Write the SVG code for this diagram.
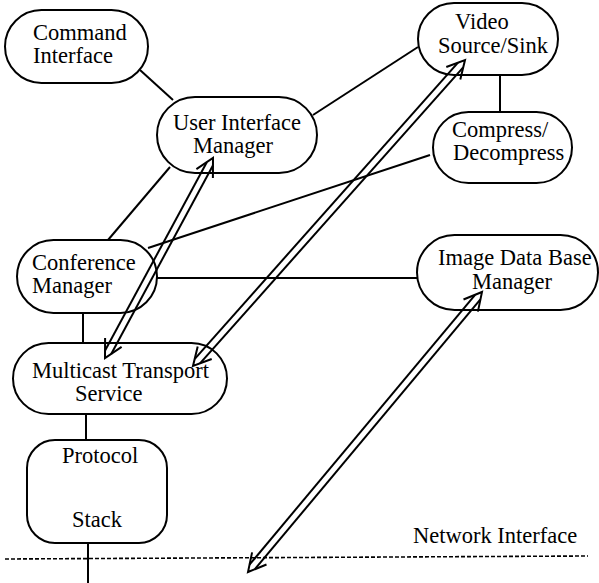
<svg xmlns="http://www.w3.org/2000/svg" width="599" height="583" viewBox="0 0 599 583">
<style>
.node{fill:#fff;stroke:#000;stroke-width:2}
.lbl{font-family:"Liberation Serif","Times New Roman",serif;font-size:22.5px;fill:#000}
.c{stroke:#000;stroke-width:2;fill:none}
.dash{stroke:#000;stroke-width:1.6;stroke-dasharray:4 2;fill:none}
.ar{stroke:#000;stroke-width:2;fill:none;stroke-linejoin:miter}
</style>
<rect width="599" height="583" fill="#fff"/>
<g id="command-interface">
<rect class="node" x="5" y="10" width="143" height="73" rx="36.5"/>
<text class="lbl" x="33" y="40">Command</text>
<text class="lbl" x="33" y="63">Interface</text>
</g>
<g id="user-interface-manager">
<rect class="node" x="157" y="97" width="160" height="76" rx="38"/>
<text class="lbl" x="173" y="130">User Interface</text>
<text class="lbl" x="193" y="153">Manager</text>
</g>
<g id="video-source-sink">
<rect class="node" x="418" y="3" width="140" height="72" rx="36"/>
<text class="lbl" x="455" y="29">Video</text>
<text class="lbl" x="438" y="53">Source/Sink</text>
</g>
<g id="compress-decompress">
<rect class="node" x="433" y="112" width="139" height="71" rx="35.5"/>
<text class="lbl" x="452" y="137">Compress/</text>
<text class="lbl" x="453" y="160">Decompress</text>
</g>
<g id="conference-manager">
<rect class="node" x="17" y="240" width="140" height="73" rx="36.5"/>
<text class="lbl" x="32" y="270">Conference</text>
<text class="lbl" x="32" y="293">Manager</text>
</g>
<g id="image-data-base-manager">
<rect class="node" x="417" y="235" width="181" height="75" rx="37.5"/>
<text class="lbl" x="438" y="265">Image Data Base</text>
<text class="lbl" x="472" y="289">Manager</text>
</g>
<g id="multicast-transport-service">
<rect class="node" x="13" y="343" width="214" height="71" rx="35.5"/>
<text class="lbl" x="32" y="378">Multicast Transport</text>
<text class="lbl" x="75" y="401">Service</text>
</g>
<g id="protocol-stack">
<rect class="node" x="27" y="440" width="140" height="103" rx="28"/>
<text class="lbl" x="62" y="463">Protocol</text>
<text class="lbl" x="72" y="527">Stack</text>
</g>
<g id="network-interface">
<text class="lbl" x="413" y="543">Network Interface</text>
</g>
<g id="connectors">
<line class="c" x1="140" y1="70" x2="173" y2="100"/>
<line class="c" x1="170" y1="167" x2="108" y2="240"/>
<line class="c" x1="418" y1="47" x2="313" y2="115"/>
<line class="c" x1="500" y1="75" x2="500" y2="112"/>
<line class="c" x1="430" y1="155" x2="148" y2="248"/>
<line class="c" x1="157" y1="278" x2="417" y2="278"/>
<line class="c" x1="83" y1="313" x2="83" y2="343"/>
<line class="c" x1="86" y1="414" x2="86" y2="440"/>
<line class="c" x1="88" y1="543" x2="88" y2="583"/>
<line class="dash" x1="5" y1="559" x2="588" y2="556"/>
<g id="arrow-uim-mts">
<line class="ar" x1="111.2" y1="353.9" x2="212.9" y2="165.5"/>
<line class="ar" x1="105.1" y1="350.5" x2="206.8" y2="162.2"/>
<polyline class="ar" points="196.4,169.1 213,158 212.9,178"/>
<polyline class="ar" points="121.6,346.9 105,358 105.1,338"/>
</g>
<g id="arrow-video-mts">
<line class="ar" x1="200" y1="363.4" x2="463.2" y2="67.3"/>
<line class="ar" x1="194.8" y1="358.8" x2="458" y2="62.6"/>
<polyline class="ar" points="446.3,67 465,60 460.3,79.4"/>
<polyline class="ar" points="211.7,359 193,366 197.7,346.6"/>
</g>
<g id="arrow-idb-net">
<line class="ar" x1="254.9" y1="569.2" x2="480.4" y2="299.3"/>
<line class="ar" x1="249.5" y1="564.7" x2="475.1" y2="294.8"/>
<polyline class="ar" points="463.5,299.5 482,292 477.9,311.6"/>
<polyline class="ar" points="266.5,564.5 248,572 252.1,552.4"/>
</g>
</g>
</svg>
